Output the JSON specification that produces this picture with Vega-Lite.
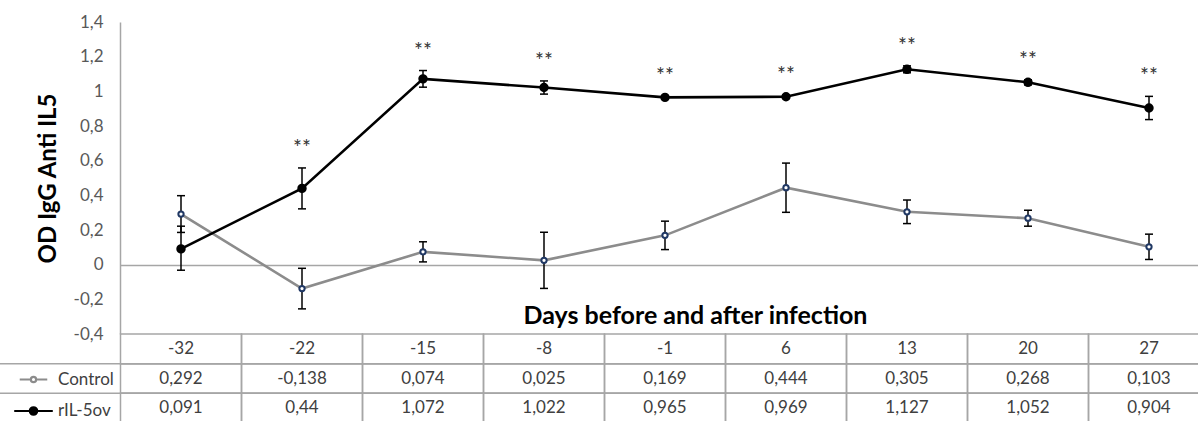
{
  "$schema": "https://vega.github.io/schema/vega-lite/v6.json",
  "width": 1198,
  "height": 421,
  "autosize": "none",
  "padding": 0,
  "background": "white",
  "config": {
    "locale": {"number": {"decimal": ",", "thousands": ".", "grouping": [3], "currency": ["", ""], "minus": "-"}},
    "view": {"stroke": null},
    "font": "Lato"
  },
  "datasets": {
    "d": [
      {"day": "-32", "series": "Control", "value": 0.292, "lo": 0.186, "hi": 0.398, "sig": ""},
      {"day": "-22", "series": "Control", "value": -0.138, "lo": -0.255, "hi": -0.021, "sig": ""},
      {"day": "-15", "series": "Control", "value": 0.074, "lo": 0.016, "hi": 0.132, "sig": ""},
      {"day": "-8", "series": "Control", "value": 0.025, "lo": -0.137, "hi": 0.187, "sig": ""},
      {"day": "-1", "series": "Control", "value": 0.169, "lo": 0.087, "hi": 0.251, "sig": ""},
      {"day": "6", "series": "Control", "value": 0.444, "lo": 0.302, "hi": 0.586, "sig": ""},
      {"day": "13", "series": "Control", "value": 0.305, "lo": 0.237, "hi": 0.373, "sig": ""},
      {"day": "20", "series": "Control", "value": 0.268, "lo": 0.222, "hi": 0.314, "sig": ""},
      {"day": "27", "series": "Control", "value": 0.103, "lo": 0.03, "hi": 0.176, "sig": ""},
      {"day": "-32", "series": "rIL-5ov", "value": 0.091, "lo": -0.032, "hi": 0.222, "sig": ""},
      {"day": "-22", "series": "rIL-5ov", "value": 0.44, "lo": 0.322, "hi": 0.558, "sig": "**"},
      {"day": "-15", "series": "rIL-5ov", "value": 1.072, "lo": 1.024, "hi": 1.12, "sig": "**"},
      {"day": "-8", "series": "rIL-5ov", "value": 1.022, "lo": 0.984, "hi": 1.06, "sig": "**"},
      {"day": "-1", "series": "rIL-5ov", "value": 0.965, "lo": 0.955, "hi": 0.975, "sig": "**"},
      {"day": "6", "series": "rIL-5ov", "value": 0.969, "lo": 0.959, "hi": 0.979, "sig": "**"},
      {"day": "13", "series": "rIL-5ov", "value": 1.127, "lo": 1.107, "hi": 1.147, "sig": "**"},
      {"day": "20", "series": "rIL-5ov", "value": 1.052, "lo": 1.037, "hi": 1.067, "sig": "**"},
      {"day": "27", "series": "rIL-5ov", "value": 0.904, "lo": 0.837, "hi": 0.971, "sig": "**"}
    ]
  },
  "data": {"name": "d"},
  "layer": [
    {
      "layer": [
        {
          "mark": {"type": "line", "strokeWidth": 2.6},
          "encoding": {
            "x": {
              "field": "day", "type": "nominal",
              "scale": {"type": "band", "domain": ["-32", "-22", "-15", "-8", "-1", "6", "13", "20", "27"], "range": [120.5, 1209.5], "paddingInner": 0, "paddingOuter": 0},
              "axis": {
                "orient": "bottom", "offset": -156, "labels": false, "ticks": false, "tickSize": 0,
                "domainColor": "#a6a6a6", "domainWidth": 1.5, "grid": false,
                "title": "Days before and after infection", "titleFont": "Lato", "titleFontSize": 25,
                "titleFontWeight": "bold", "titleColor": "#000000", "titleX": 695, "titleY": 58,
                "titleBaseline": "alphabetic", "titleAlign": "center"
              }
            },
            "y": {
              "field": "value", "type": "quantitative",
              "scale": {"domain": [-0.4, 1.4], "range": [334, 22], "nice": false, "zero": false},
              "axis": {
                "orient": "left", "offset": -120,
                "values": [-0.4, -0.2, 0, 0.2, 0.4, 0.6, 0.8, 1, 1.2, 1.4],
                "format": ".1~f", "ticks": false, "tickSize": 0, "labelPadding": 17,
                "labelFont": "Lato", "labelFontSize": 17, "labelColor": "#595959",
                "domainColor": "#a6a6a6", "domainWidth": 1.5, "grid": false,
                "title": "OD IgG Anti IL5", "titleFont": "Lato", "titleFontSize": 24,
                "titleFontWeight": "bold", "titleColor": "#000000",
                "titleX": -65, "titleY": 178, "titleAngle": 270,
                "titleBaseline": "alphabetic", "titleAlign": "center"
              }
            },
            "color": {
              "field": "series", "type": "nominal",
              "scale": {"domain": ["Control", "rIL-5ov"], "range": ["#8c8c8c", "#000000"]},
              "legend": {
                "orient": "none", "legendX": 25, "legendY": 371, "title": null, "direction": "vertical",
                "symbolType": "M-5.2,0L-1,0M1,0L5.2,0M1,0A1,1,0,1,1,-1,0A1,1,0,1,1,1,0Z",
                "symbolStrokeWidth": 2.2, "rowPadding": 13.5, "labelOffset": 16,
                "labelFont": "Lato", "labelFontSize": 17, "labelColor": "#404040", "padding": 0,
                "encode": {
                  "symbols": {
                    "update": {
                      "fill": {"signal": "datum.value === 'Control' ? '#ffffff' : '#000000'"},
                      "opacity": {"value": 1}
                    }
                  }
                }
              }
            }
          }
        },
        {
          "mark": {"type": "rule", "color": "#000000", "strokeWidth": 1.5},
          "encoding": {
            "x": {"field": "day", "type": "nominal"},
            "y": {"field": "lo", "type": "quantitative"},
            "y2": {"field": "hi"}
          }
        },
        {
          "mark": {"type": "tick", "color": "#000000", "thickness": 1.5, "size": 8, "opacity": 1},
          "encoding": {
            "x": {"field": "day", "type": "nominal"},
            "y": {"field": "lo", "type": "quantitative"}
          }
        },
        {
          "mark": {"type": "tick", "color": "#000000", "thickness": 1.5, "size": 8, "opacity": 1},
          "encoding": {
            "x": {"field": "day", "type": "nominal"},
            "y": {"field": "hi", "type": "quantitative"}
          }
        },
        {
          "mark": {"type": "point", "shape": "circle", "opacity": 1, "strokeWidth": 2, "filled": false},
          "encoding": {
            "x": {"field": "day", "type": "nominal"},
            "y": {"field": "value", "type": "quantitative"},
            "fill": {"field": "series", "type": "nominal", "scale": {"domain": ["Control", "rIL-5ov"], "range": ["#ffffff", "#000000"]}, "legend": null},
            "stroke": {"field": "series", "type": "nominal", "scale": {"domain": ["Control", "rIL-5ov"], "range": ["#203864", "#000000"]}, "legend": null},
            "size": {"field": "series", "type": "ordinal", "scale": {"domain": ["Control", "rIL-5ov"], "range": [28, 55]}, "legend": null}
          }
        },
        {
          "mark": {"type": "text", "font": "Lato", "fontSize": 21, "fill": "#333333", "color": "#333333", "baseline": "alphabetic", "dy": -13},
          "encoding": {
            "x": {"field": "day", "type": "nominal"},
            "y": {"field": "hi", "type": "quantitative"},
            "text": {"field": "sig"}
          }
        }
      ]
    },
    {
      "layer": [
        {
          "mark": {"type": "rect", "fill": "transparent", "stroke": "#a6a6a6", "strokeWidth": 1.5},
          "encoding": {
            "x": {"field": "day", "type": "nominal"},
            "y": {
              "field": "series", "type": "nominal",
              "scale": {"type": "band", "domain": ["hdr", "Control", "rIL-5ov"], "range": [334, 423], "paddingInner": 0, "paddingOuter": 0},
              "axis": null
            }
          }
        },
        {
          "transform": [{"filter": "datum.series === 'Control'"}],
          "mark": {"type": "rect", "fill": "transparent", "stroke": "#a6a6a6", "strokeWidth": 1.5},
          "encoding": {
            "x": {"field": "day", "type": "nominal"},
            "y": {"datum": "hdr", "type": "nominal"}
          }
        },
        {
          "transform": [{"filter": "datum.day === '-32'"}],
          "mark": {"type": "rule", "color": "#a6a6a6", "strokeWidth": 1.5},
          "encoding": {
            "y": {"field": "series", "type": "nominal", "bandPosition": 0}
          }
        },
        {
          "transform": [{"filter": "datum.series === 'Control'"}],
          "mark": {"type": "text", "font": "Lato", "fontSize": 17, "color": "#404040"},
          "encoding": {
            "x": {"field": "day", "type": "nominal"},
            "y": {"datum": "hdr", "type": "nominal"},
            "text": {"field": "day"}
          }
        },
        {
          "mark": {"type": "text", "font": "Lato", "fontSize": 17, "color": "#404040"},
          "encoding": {
            "x": {"field": "day", "type": "nominal"},
            "y": {"field": "series", "type": "nominal"},
            "text": {"field": "value", "type": "quantitative", "format": ".3~f"}
          }
        }
      ]
    }
  ],
  "resolve": {"scale": {"y": "independent"}}
}
